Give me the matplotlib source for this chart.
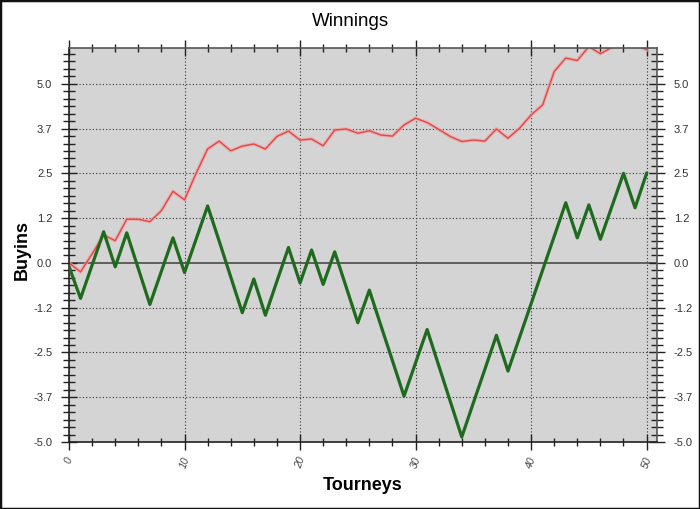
import matplotlib
matplotlib.use("Agg")
import matplotlib.pyplot as plt
from matplotlib.ticker import FixedLocator, FixedFormatter, MultipleLocator, AutoMinorLocator
from matplotlib.patches import Rectangle

tourneys = list(range(51))
winnings = [-0.10, -0.99, -0.06, 0.87, -0.11, 0.84, -0.16, -1.16, -0.23, 0.70,
            -0.27, 0.66, 1.59, 0.61, -0.39, -1.39, -0.45, -1.46, -0.51, 0.43,
            -0.56, 0.36, -0.60, 0.31, -0.68, -1.67, -0.76, -1.75, -2.73, -3.72,
            -2.79, -1.86, -2.86, -3.86, -4.86, -3.91, -2.97, -2.02, -3.02, -2.08,
            -1.14, -0.20, 0.74, 1.68, 0.70, 1.62, 0.66, 1.58, 2.50, 1.54, 2.50]
ev_line = [0.00, -0.25, 0.25, 0.78, 0.62, 1.22, 1.22, 1.15, 1.46, 2.00,
           1.76, 2.50, 3.18, 3.40, 3.13, 3.26, 3.32, 3.18, 3.53, 3.68,
           3.43, 3.46, 3.27, 3.71, 3.74, 3.62, 3.69, 3.57, 3.54, 3.85,
           4.04, 3.92, 3.73, 3.53, 3.39, 3.43, 3.40, 3.74, 3.48, 3.76,
           4.13, 4.41, 5.34, 5.72, 5.65, 6.04, 5.84, 6.02, 6.15, 6.10, 5.95]
y_ticks = [-5.0, -3.75, -2.5, -1.25, 0.0, 1.25, 2.5, 3.75, 5.0]
y_tick_labels = ['-5.0', '-3.7', '-2.5', '-1.2', '0.0', '1.2', '2.5', '3.7', '5.0']
x_ticks = [0, 10, 20, 30, 40, 50]
x_tick_labels = ['0', '10', '20', '30', '40', '50']

plt.rcParams['font.family'] = ['Liberation Sans', 'DejaVu Sans']

fig = plt.figure(figsize=(7.0, 5.09), dpi=100)
fig.patch.set_facecolor('white')
ax = fig.add_axes([69/700, 1-442/509, (657-69)/700, (442-48)/509])
ax.set_facecolor('#d4d4d4')

ax.set_xlim(0, 50.9)
ax.set_ylim(-5.0, 6.0)

# grid
for yt in y_ticks:
    if yt != 0:
        ax.axhline(yt, color='#333333', lw=0.8, ls=(0, (1, 2)), zorder=1)
for xt in x_ticks:
    ax.axvline(xt, color='#333333', lw=0.8, ls=(0, (1, 2)), zorder=1)
ax.axhline(0, color='#555555', lw=1.3, zorder=1.5)

ax.plot(tourneys, ev_line, color='#f2a0a0', lw=2.6, alpha=0.7, zorder=2, solid_joinstyle='round')
ax.plot(tourneys, ev_line, color='#e04848', lw=1.0, zorder=2.1)
ax.plot(tourneys, winnings, color='#1e6b1e', lw=2.3, zorder=3)

ax.yaxis.set_major_locator(FixedLocator(y_ticks))
ax.yaxis.set_major_formatter(FixedFormatter(y_tick_labels))
ax.yaxis.set_minor_locator(MultipleLocator(1.25/6))
ax.xaxis.set_major_locator(FixedLocator(x_ticks))
ax.xaxis.set_major_formatter(FixedFormatter(x_tick_labels))
ax.xaxis.set_minor_locator(MultipleLocator(2))

ax.tick_params(axis='both', which='both', direction='inout', top=True, right=True,
               color='#222222', width=1.0)
ax.tick_params(axis='y', which='major', length=12, labelsize=8, labelcolor='#333333',
               labelright=True, pad=6)
ax.tick_params(axis='y', which='minor', length=8)
ax.tick_params(axis='x', which='major', length=12, labelsize=7.5, labelcolor='#444444', pad=4)
ax.tick_params(axis='x', which='minor', length=6)
for lbl in ax.get_xticklabels():
    lbl.set_rotation(70)
    lbl.set_fontstyle('italic')

for s in ax.spines.values():
    s.set_color('#555555')
    s.set_linewidth(1.2)
ax.spines['bottom'].set_color('#222222')
ax.spines['left'].set_color('#222222')

fig.text(0.5, 1-22/509, 'Winnings', ha='center', va='center', fontsize=13.5, color='black')
fig.text(363/700, 1-486/509, 'Tourneys', ha='center', va='center', fontsize=13, fontweight='bold')
fig.text(22/700, 1-250/509, 'Buyins', ha='center', va='center', fontsize=13, fontweight='bold', rotation=90)

fig.patches.append(Rectangle((0, 0), 1, 1, transform=fig.transFigure, fill=False,
                             edgecolor='#111111', lw=2.5))

fig.savefig('out.png', dpi=100)
